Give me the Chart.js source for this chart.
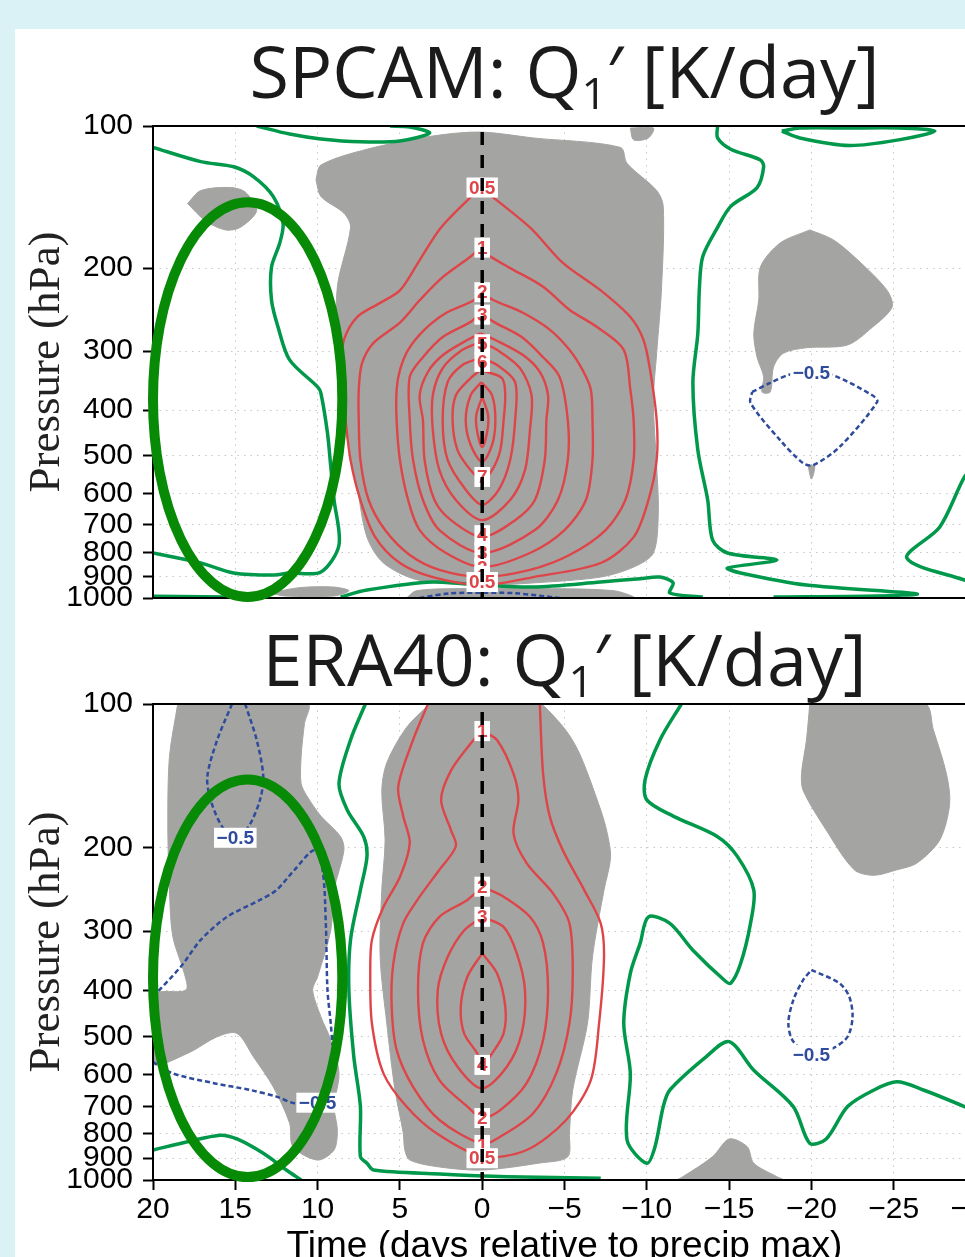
<!DOCTYPE html>
<html>
<head>
<meta charset="utf-8">
<script src="https://cdn.jsdelivr.net/npm/chart.js@4.4.1/dist/chart.umd.min.js"></script>
<style>
  html, body { margin: 0; padding: 0; overflow: hidden; background: #daf1f6; }
  body { width: 965px; height: 1257px; position: relative; }
  #paper { position: absolute; left: 15px; top: 29px; width: 1000px; height: 1300px; background: #fff; }
  canvas { position: absolute; left: 0; }
  #spcam { top: 0; width: 1000px; height: 615px; }
  #era40 { top: 600px; width: 1000px; height: 680px; }
</style>
</head>
<body>
<div id="paper"></div>
<canvas id="spcam" width="1000" height="615"></canvas>
<canvas id="era40" width="1000" height="680"></canvas>
<script>
// axes
const dayTicks = [20, 15, 10, 5, 0, -5, -10, -15, -20, -25, -30];
const pressureTicks = [100, 200, 300, 400, 500, 600, 700, 800, 900, 1000];

// ---- SPCAM panel, paths are [day, hPa] ----
const spcamShade = [
  [[10.1,130],[9.8,121],[7.0,112],[3.0,105],[0.1,103],[-3.1,106],[-8.4,111],[-8.8,120],[-10.6,137],[-11.0,148],[-10.9,219],[-10.6,303],[-10.4,381],[-10.6,527],[-10.7,660],[-10.4,803],[-9.2,860],[-7.2,903],[-3.1,929],[0.1,939],[3.9,916],[6.0,843],[7.0,743],[7.6,582],[8.4,420],[8.8,303],[8.8,219],[8.0,164],[8.4,153],[9.8,141]],
  [[17.9,146],[17.1,137],[15.3,135],[14.4,138],[13.7,151],[14.7,164],[15.6,166],[16.8,159]],
  [[-19.9,166],[-18.1,177],[-16.9,199],[-16.8,234],[-16.5,275],[-16.7,309],[-17.1,340],[-17.0,366],[-17.5,366],[-17.7,324],[-18.3,303],[-19.7,295],[-22.2,291],[-23.7,267],[-24.9,242],[-24.6,223],[-22.8,192],[-21.3,174]],
  [[-9.0,101],[-10.4,101],[-10.1,106],[-9.2,107]],
  [[12.9,975],[11,950],[9,948],[8.1,965],[9,990],[12,990]],
  [[4.6,1000],[4.0,965],[1,955],[-3,955],[-8,965],[-9.2,1000]],
  [[-19.8,525],[-20.2,525],[-20.0,560]]
];
const spcamZero = [
  [[20,111],[17.1,119],[15.1,122],[13.9,128],[12.7,141],[12.1,161],[12.3,177],[12.8,199],[12.8,234],[12.4,267],[11.7,313],[10.0,357],[9.8,368],[9.4,447],[9.2,527],[9.0,620],[8.7,772],[9.8,881],[11.7,885],[12.7,894],[15.1,885],[17.1,843],[20,803]],
  [[13.7,100],[11.7,104],[9.8,106.5],[7.4,108],[5.0,107.6],[3.2,103.5],[4.4,100.5],[5.6,100]],
  [[-14.3,100],[-14.3,106],[-15.1,112],[-16.9,118],[-17.1,122],[-16.7,135],[-15.1,148],[-14.3,164],[-13.4,189],[-13.2,219],[-13.1,275],[-12.8,350],[-13.1,486],[-13.7,620],[-14.0,754],[-14.9,803],[-17.9,831],[-14.9,864],[-15.7,885],[-19.7,939],[-26.4,980],[-24,990],[-17.7,995]],
  [[-18.2,102.5],[-19.3,106],[-22.3,110],[-25.3,107],[-27.5,102.5],[-25.3,101],[-22.3,101],[-19.3,101],[-18.2,102.5]],
  [[-30,520],[-29.3,554],[-27.8,707],[-25.8,823],[-29.3,916],[-30,930]],
  [[8.6,995],[7.0,962],[3.0,925],[0.1,939],[-3.1,948],[-7.2,925],[-9.6,910],[-10.8,903],[-11.6,929],[-11.4,976],[-13.4,995]],
  [[20,992],[17,994],[14,996]]
];
const spcamNeg = [
  [[-16.4,366],[-17.5,350],[-18.7,336],[-20,332],[-21.3,337],[-23.7,372],[-24.0,384],[-21.7,479],[-20.1,523],[-19.5,518],[-18.1,463],[-16.3,386],[-16.4,366]],
  [[3.8,1000],[2,978],[0,975],[-2,977],[-4.7,1000]]
];
const spcamPos = [
  [[0.1,135],[-2.9,164],[-4.9,195],[-7.2,223],[-9.0,254],[-9.8,284],[-10.2,329],[-10.6,420],[-10.6,510],[-10.1,620],[-9.2,743],[-7.2,843],[-3.1,903],[0,939],[3.0,903],[5.0,843],[6.5,743],[7.4,620],[8.0,510],[8.3,420],[8.6,329],[8.4,284],[7.6,254],[6.2,237],[5.0,223],[3.9,195],[2.5,164],[0.1,135]],
  [[0.1,181],[-0.5,189],[-1.7,200],[-3.7,219],[-5.3,245],[-7.0,267],[-8.6,298],[-9.0,362],[-9.2,420],[-9.2,510],[-8.7,620],[-7.5,718],[-5.3,811],[-2.9,872],[0,903],[2.6,872],[4.4,811],[5.9,718],[6.9,620],[7.4,510],[7.5,420],[7.5,362],[7.3,318],[6.6,288],[5.0,261],[3.8,234],[2.4,209],[0.7,189],[0.1,181]],
  [[0.1,225],[-0.7,234],[-2.5,249],[-4.1,270],[-5.3,298],[-6.1,329],[-6.6,362],[-6.7,420],[-6.7,510],[-6.3,620],[-5.0,718],[-2.9,803],[0,860],[2.2,803],[3.8,718],[4.5,620],[5.0,510],[5.2,420],[5.2,362],[5.0,329],[4.5,298],[3.5,270],[2.2,249],[0.5,234],[0.1,225]],
  [[0.1,249],[-0.7,260],[-2.4,280],[-3.7,309],[-4.7,340],[-5.2,420],[-5.2,510],[-4.6,620],[-3.2,718],[0,803],[2.6,718],[3.6,620],[4.2,510],[4.4,420],[4.4,340],[3.6,309],[2.4,280],[0.7,260],[0.1,249]],
  [[0.1,275],[-0.8,284],[-2.5,306],[-3.5,332],[-4.0,372],[-3.9,420],[-3.8,510],[-3.2,620],[-2.0,684],[0,743],[1.9,684],[2.9,620],[3.5,510],[3.6,420],[3.8,372],[3.3,332],[2.4,306],[0.9,284],[0.1,275]],
  [[0.1,287],[-0.9,298],[-2.3,326],[-3.0,372],[-2.9,441],[-2.6,536],[-1.7,620],[0,684],[1.6,620],[2.6,536],[3.0,441],[3.0,372],[2.4,326],[1.2,298],[0.1,287]],
  [[0.1,310],[-0.9,321],[-2.0,349],[-2.0,420],[-1.7,510],[-1.0,590],[0,635],[1.0,590],[2.1,510],[2.4,420],[2.1,349],[1.2,321],[0.1,310]],
  [[0.1,329],[-1.2,342],[-1.4,372],[-1.3,420],[-1.1,486],[-0.6,536],[0,562],[0.7,536],[1.5,486],[1.8,420],[1.6,372],[0.7,342],[0.1,329]],
  [[0.05,349],[-0.6,372],[-0.8,420],[-0.6,474],[0,515],[0.7,474],[1.0,420],[0.7,372],[0.05,349]],
  [[0,375],[-0.36,410],[-0.3,445],[0,479],[0.3,445],[0.36,410],[0,375]]
];
// [text, day, hPa, positive?]
const spcamLabels = [
  ['0.5',0,135,1],['1',0,181,1],['2',0,225,1],['3',0,251,1],['5',0,290,1],['6',0,316,1],
  ['7',0,554,1],['4',0,736,1],['3',0,803,1],['2',0,864,1],['1',0,898,1],['0.5',0,925,1],
  ['\u22120.5',-20,333,0]
];
const spcamRing = [20, 8.5, 145, 995];

// ---- ERA40 panel ----
const eraShade = [
  [[3.2,100],[4.6,112],[5.8,133],[6.1,152],[5.9,193],[6.1,246],[6.2,340],[5.8,468],[5.3,647],[4.8,796],[4.7,865],[4.4,908],[2.6,939],[0,953],[-3.5,921],[-5.2,894],[-5.3,796],[-5.5,647],[-6.4,468],[-6.7,340],[-7.4,246],[-7.8,210],[-7.6,187],[-7.2,167],[-6.0,129],[-5.2,115],[-4.0,103],[-3.5,100]],
  [[18.5,100],[19.0,129],[19.1,178],[19.0,246],[18.8,308],[18.1,368],[18.0,399],[20,409],[20,569],[17.9,542],[16.1,500],[14.9,492],[13.9,551],[12.7,637],[11.7,760],[11.5,851],[10.0,908],[9.0,865],[8.8,785],[9.0,701],[8.7,597],[9.2,508],[9.8,454],[10.3,399],[10.0,374],[9.2,299],[9.0,246],[8.4,203],[8.6,190],[9.8,172],[10.6,157],[11.0,147],[11.0,129],[10.8,110],[10.6,100]],
  [[-19.9,100],[-19.7,119],[-19.4,140],[-19.5,152],[-20.9,184],[-22.6,223],[-23.8,229],[-25.2,223],[-26.4,216],[-27.8,193],[-28.4,162],[-28.2,140],[-27.4,113],[-26.9,100]],
  [[-11.8,1000],[-12.2,984],[-14.0,893],[-15.0,820],[-16.1,851],[-16.5,922],[-17.9,984],[-18.3,1000]]
];
const eraZero = [
  [[20,865],[17.9,831],[15.9,805],[14.9,820],[13.3,879],[11.9,953],[11.0,1000]],
  [[7.1,100],[8.0,119],[8.7,147],[8.2,167],[7.2,190],[7.0,209],[7.4,246],[8.0,313],[8.1,399],[7.8,551],[7.4,701],[7.4,893],[7.0,922],[6.6,953],[2.6,971],[-1.5,984],[-7.2,992]],
  [[-12.1,100],[-10.8,119],[-9.9,144],[-10.0,159],[-11.6,172],[-14.3,190],[-15.5,209],[-16.5,246],[-16.3,289],[-15.7,351],[-15.1,386],[-14.7,380],[-12.8,329],[-11.4,289],[-10.1,280],[-9.6,318],[-9.0,368],[-8.6,469],[-9.0,597],[-8.8,824],[-10.0,922],[-10.5,851],[-11.0,701],[-11.4,647],[-13.6,551],[-15.0,512],[-16.5,588],[-18.9,701],[-19.9,837],[-20.9,820],[-22.2,701],[-23.8,647],[-25.2,622],[-26.8,647],[-29.3,701],[-30,720]]
];
const eraNeg = [
  [[15.2,100],[16.1,119],[16.7,142],[16.5,159],[15.8,181],[15.0,191],[14.2,181],[13.5,159],[13.3,142],[13.7,119],[14.4,100]],
  [[20,412],[18.3,356],[17.1,313],[15.5,280],[13.5,258],[12.5,246],[11.4,223],[10.2,203],[9.7,223],[9.5,289],[9.4,399],[9.2,469],[9.1,520]],
  [[20,565],[18.8,597],[16.3,626],[14.1,647],[12.5,668],[11.4,690],[10.0,690]],
  [[-20.0,362],[-21.7,386],[-22.3,412],[-22.5,454],[-22.2,500],[-21.3,529],[-20.0,546],[-18.9,512],[-18.6,469],[-18.9,419],[-19.5,380],[-20.0,362]]
];
const eraPos = [
  [[3.3,100],[4.2,119],[5.1,149],[4.8,172],[4.4,196],[5.0,231],[6.0,267],[6.7,313],[6.8,368],[6.7,469],[6.0,597],[4.6,701],[2.8,797],[0,893],[-2.7,865],[-5.1,748],[-6.6,617],[-7.1,469],[-7.4,340],[-7.2,289],[-6.2,246],[-4.9,203],[-4.1,172],[-3.7,140],[-3.5,100]],
  [[0,114],[-0.9,119],[-1.9,140],[-2.2,159],[-1.9,187],[-2.7,216],[-4.3,250],[-5.3,289],[-5.5,368],[-5.3,469],[-4.5,597],[-3.1,724],[-1.1,811],[0,840],[2.6,748],[4.2,637],[5.2,533],[5.5,432],[5.4,351],[4.8,289],[3.8,254],[2.6,223],[1.6,199],[1.9,184],[2.5,159],[1.9,138],[0.7,121],[0,114]],
  [[0,242],[-1.3,254],[-2.9,280],[-3.7,318],[-4.0,399],[-3.7,508],[-2.7,626],[-1.1,713],[0,741],[0.9,701],[2.6,617],[3.6,508],[3.9,399],[3.6,318],[2.6,280],[0.9,258],[0,242]],
  [[0,280],[-1.3,294],[-2.1,334],[-2.6,399],[-2.4,492],[-1.5,578],[0,642],[1.5,578],[2.5,492],[2.7,399],[2.1,340],[1.1,299],[0,280]],
  [[0,334],[-0.9,368],[-1.4,432],[-1.3,492],[-0.6,542],[0,573],[0.3,542],[1.1,492],[1.3,432],[0.9,374],[0,334]]
];
const eraLabels = [
  ['1',0,114,1],['2',0,242,1],['3',0,280,1],['4',0,573,1],['2',0,741,1],['1',0,844,1],['0.5',0,900,1],
  ['\u22120.5',15.0,191,0],['\u22120.5',10.0,688,0],['\u22120.5',-20.0,546,0]
];
const eraRing = [20, 8.5, 144, 986];

const SHADE = '#a4a5a3';
const RED = '#de4549';
const GREEN = '#00984a';
const BLUE = '#2f4b9c';
const RING = '#078a06';

function xy(path) {
  return path.map(p => ({ x: p[0], y: p[1] }));
}

function lineSet(path, color, width, dash, order) {
  return {
    data: xy(path), showLine: true, fill: false,
    borderColor: color, borderWidth: width, borderDash: dash,
    pointRadius: 0, tension: 0.3, order: order
  };
}

function shadeSet(path) {
  return {
    data: xy(path.concat([path[0]])), showLine: true, fill: 'shape',
    backgroundColor: SHADE, borderColor: SHADE, borderWidth: 1,
    pointRadius: 0, tension: 0.3, order: 9
  };
}

function overlay(p) {
  return {
    id: 'overlay',
    afterDatasetsDraw(chart) {
      const { ctx, chartArea: a, scales: { x, y } } = chart;
      ctx.save();
      // inline contour labels
      ctx.font = 'bold 19px "Liberation Sans"';
      ctx.textAlign = 'center';
      ctx.textBaseline = 'middle';
      p.labels.forEach(([t, d, hpa, pos]) => {
        const px = x.getPixelForValue(d), py = y.getPixelForValue(hpa);
        const w = ctx.measureText(t).width + 5;
        ctx.fillStyle = '#fff';
        ctx.fillRect(px - w / 2, py - 10, w, 20);
        ctx.fillStyle = pos ? RED : BLUE;
        ctx.fillText(t, px, py + 1);
      });
      // day 0 line
      const x0 = x.getPixelForValue(0);
      ctx.strokeStyle = '#000';
      ctx.lineWidth = 3.5;
      ctx.setLineDash([13, 10]);
      ctx.beginPath();
      ctx.moveTo(x0, y.getPixelForValue(p.zeroFrom));
      ctx.lineTo(x0, a.bottom);
      ctx.stroke();
      // frame
      ctx.setLineDash([]);
      ctx.lineWidth = 2;
      ctx.strokeRect(a.left, a.top, a.right - a.left, a.bottom - a.top);
      ctx.restore();
    },
    afterDraw(chart) {
      const { ctx, chartArea: a, scales: { x, y } } = chart;
      ctx.save();
      const [d1, d2, h1, h2] = p.ring;
      const l = x.getPixelForValue(d1), r = x.getPixelForValue(d2);
      const t = y.getPixelForValue(h1), b = y.getPixelForValue(h2);
      ctx.strokeStyle = RING;
      ctx.lineWidth = 10;
      ctx.beginPath();
      ctx.ellipse((l + r) / 2, (t + b) / 2, Math.abs(r - l) / 2, Math.abs(b - t) / 2, 0, 0, Math.PI * 2);
      ctx.stroke();

      // title with subscript
      const parts = [[p.title[0], '72px "Open Sans"', 0], ['1', '44px "Open Sans"', 11], [p.title[1], '72px "Open Sans"', 0]];
      ctx.fillStyle = '#1b1b1b';
      ctx.textAlign = 'left';
      ctx.textBaseline = 'alphabetic';
      let total = 0;
      parts.forEach(q => { ctx.font = q[1]; q.push(ctx.measureText(q[0]).width); total += q[3]; });
      let cx = (a.left + a.right) / 2 - total / 2;
      parts.forEach(q => { ctx.font = q[1]; ctx.fillText(q[0], cx, p.titleBase + q[2]); cx += q[3]; });
      ctx.restore();
    }
  };
}

function drawPanel(id, p) {
  const datasets = [];
  p.shade.forEach(s => datasets.push(shadeSet(s)));
  p.zero.forEach(s => datasets.push(lineSet(s, GREEN, 3.5, [], 4)));
  p.neg.forEach(s => datasets.push(lineSet(s, BLUE, 2.5, [5, 3], 3)));
  p.pos.forEach(s => datasets.push(lineSet(s, RED, 2.4, [], 2)));

  new Chart(document.getElementById(id), {
    type: 'scatter',
    data: { datasets },
    options: {
      responsive: false,
      animation: false,
      events: [],
      devicePixelRatio: 1,
      layout: { padding: { left: 0, right: 24, top: p.padTop, bottom: p.padBottom } },
      plugins: { legend: { display: false }, tooltip: { enabled: false } },
      scales: {
        x: {
          type: 'linear', reverse: true, min: -30, max: 20,
          afterBuildTicks: s => { s.ticks = dayTicks.map(v => ({ value: v })); },
          afterFit: s => { s.height = p.xHeight; s.paddingLeft = 0; s.paddingRight = 0; },
          border: { display: false, dash: [1.5, 5] },
          grid: { color: 'rgba(0,0,0,0.22)', lineWidth: 1, drawTicks: p.showDays, tickLength: 10, tickColor: '#000', tickWidth: 2 },
          ticks: {
            display: p.showDays, autoSkip: false, maxRotation: 0, padding: 2, color: '#000',
            font: { family: 'Liberation Sans', size: 30 },
            callback: v => v < 0 ? '\u2212' + (-v) : String(v)
          },
          title: {
            display: p.showDays, text: 'Time (days relative to precip max)', color: '#000',
            font: { family: 'Liberation Sans', size: 37, lineHeight: 1 }, padding: { top: 0, bottom: 15 }
          }
        },
        y: {
          type: 'logarithmic', reverse: true, min: 100, max: 1000,
          afterBuildTicks: s => { s.ticks = pressureTicks.map(v => ({ value: v })); },
          afterFit: s => { s.width = 153; s.paddingTop = 0; s.paddingBottom = 0; },
          border: { display: false, dash: [1.5, 5] },
          grid: { color: 'rgba(0,0,0,0.22)', lineWidth: 1, drawTicks: true, tickLength: 10, tickColor: '#000', tickWidth: 2 },
          ticks: {
            autoSkip: false, padding: 10, color: '#000',
            font: { family: 'Liberation Sans', size: 30 },
            callback: v => String(v)
          },
          title: {
            display: true, text: 'Pressure (hPa)', color: '#222',
            font: { family: 'Liberation Serif', size: 45, lineHeight: 1 }, padding: { top: 25, bottom: 0 }
          }
        }
      }
    },
    plugins: [overlay(p)]
  });
}

drawPanel('spcam', {
  shade: spcamShade, zero: spcamZero, neg: spcamNeg, pos: spcamPos, labels: spcamLabels,
  ring: spcamRing, zeroFrom: 103, title: ['SPCAM: Q', '\u2032 [K/day]'], titleBase: 98,
  padTop: 126, padBottom: 17, xHeight: 0, showDays: false
});
drawPanel('era40', {
  shade: eraShade, zero: eraZero, neg: eraNeg, pos: eraPos, labels: eraLabels,
  ring: eraRing, zeroFrom: 104, title: ['ERA40: Q', '\u2032 [K/day]'], titleBase: 86,
  padTop: 104, padBottom: 0, xHeight: 100, showDays: true
});
</script>
</body>
</html>
